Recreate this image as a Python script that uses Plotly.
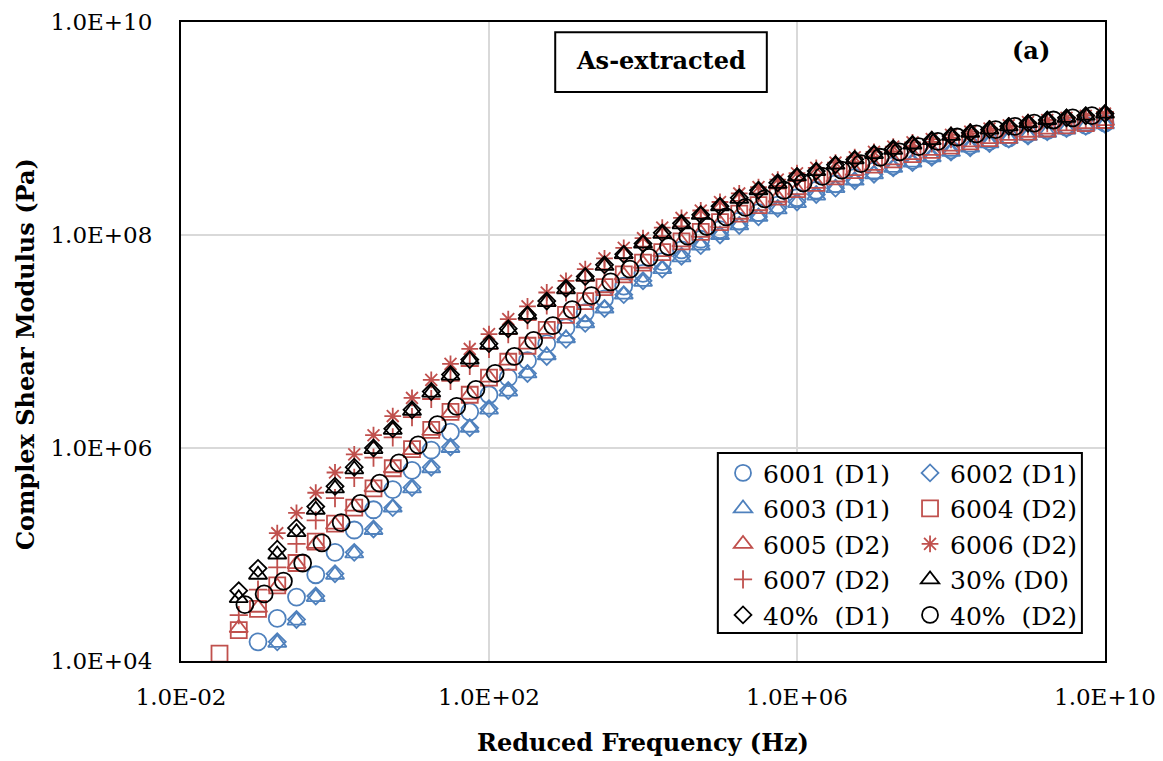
import plotly.graph_objects as go

# ---- data (log10 of reduced frequency in Hz, log10 of |G*| in Pa) ----
log_f_a = [-1.5, -1.25, -1.0, -0.75, -0.5, -0.25, 0.0, 0.25, 0.5, 0.75, 1.0, 1.25,
           1.5, 1.75, 2.0, 2.25, 2.5, 2.75, 3.0, 3.25, 3.5, 3.75, 4.0, 4.25, 4.5,
           4.75, 5.0, 5.25, 5.5, 5.75, 6.0, 6.25, 6.5, 6.75, 7.0, 7.25, 7.5, 7.75,
           8.0, 8.25, 8.5, 8.75, 9.0, 9.25, 9.5, 9.75, 10.0]
log_f_b = [-1.17, -0.92, -0.67, -0.42, -0.17, 0.08, 0.33, 0.58, 0.83, 1.08, 1.33,
           1.58, 1.83, 2.08, 2.33, 2.58, 2.83, 3.08, 3.33, 3.58, 3.83, 4.08, 4.33,
           4.58, 4.83, 5.08, 5.33, 5.58, 5.83, 6.08, 6.33, 6.58, 6.83, 7.08, 7.33,
           7.58, 7.83, 8.08, 8.33, 8.58, 8.83, 9.08, 9.33, 9.58, 9.83]

g_6001 = [4.18, 4.40, 4.60, 4.81, 5.02, 5.23, 5.42, 5.61, 5.79, 5.98,
          6.15, 6.34, 6.50, 6.66, 6.82, 6.98, 7.13, 7.27, 7.40, 7.52,
          7.64, 7.75, 7.86, 7.96, 8.05, 8.13, 8.21, 8.28, 8.35, 8.42,
          8.48, 8.54, 8.60, 8.65, 8.70, 8.75, 8.80, 8.84, 8.88, 8.91,
          8.95, 8.98, 9.01, 9.03, 9.05]
g_6002 = [4.18, 4.39, 4.61, 4.82, 5.02, 5.24, 5.44, 5.63, 5.82, 6.01,
          6.19, 6.37, 6.54, 6.70, 6.86, 7.02, 7.17, 7.31, 7.44, 7.57,
          7.68, 7.80, 7.90, 8.00, 8.09, 8.17, 8.25, 8.31, 8.38, 8.44,
          8.51, 8.57, 8.63, 8.68, 8.73, 8.78, 8.82, 8.86, 8.90, 8.93,
          8.97, 9.00, 9.02, 9.04]
g_6003 = [4.17, 4.38, 4.60, 4.81, 5.01, 5.23, 5.44, 5.62, 5.81, 6.00,
          6.19, 6.36, 6.53, 6.70, 6.87, 7.03, 7.17, 7.31, 7.44, 7.56,
          7.68, 7.79, 7.90, 8.00, 8.09, 8.17, 8.24, 8.30, 8.37, 8.44,
          8.51, 8.57, 8.63, 8.68, 8.73, 8.78, 8.82, 8.86, 8.90, 8.93,
          8.96, 8.99, 9.02, 9.04]
g_6004 = [4.07, 4.29, 4.49, 4.71, 4.92, 5.12, 5.29, 5.44, 5.62, 5.81,
          5.99, 6.17, 6.34, 6.50, 6.66, 6.81, 6.96, 7.11, 7.25, 7.38,
          7.51, 7.63, 7.74, 7.84, 7.94, 8.03, 8.12, 8.20, 8.28, 8.36,
          8.43, 8.49, 8.55, 8.61, 8.66, 8.71, 8.76, 8.80, 8.84, 8.88,
          8.91, 8.94, 8.97, 9.00, 9.03, 9.05, 9.08]
g_6005 = [4.31, 4.50, 4.70, 4.91, 5.10, 5.28, 5.45, 5.63, 5.81, 5.98,
          6.16, 6.33, 6.50, 6.66, 6.82, 6.97, 7.11, 7.25, 7.38, 7.50,
          7.62, 7.73, 7.84, 7.93, 8.02, 8.11, 8.19, 8.27, 8.35, 8.42,
          8.48, 8.54, 8.60, 8.65, 8.70, 8.75, 8.79, 8.83, 8.87, 8.90,
          8.93, 8.96, 8.99, 9.02, 9.04, 9.07]
g_6006 = [5.20, 5.39, 5.58, 5.77, 5.94, 6.12, 6.30, 6.47, 6.64, 6.79,
          6.93, 7.07, 7.21, 7.33, 7.46, 7.57, 7.68, 7.78, 7.88, 7.97,
          8.07, 8.16, 8.23, 8.31, 8.39, 8.45, 8.52, 8.58, 8.63, 8.68,
          8.73, 8.78, 8.83, 8.87, 8.90, 8.94, 8.97, 9.00, 9.03, 9.06,
          9.08, 9.10, 9.12, 9.14]
g_6007 = [4.43, 4.67, 4.88, 5.10, 5.32, 5.53, 5.72, 5.91, 6.10, 6.29,
          6.46, 6.63, 6.77, 6.93, 7.07, 7.20, 7.34, 7.46, 7.57, 7.68,
          7.78, 7.89, 7.99, 8.08, 8.16, 8.24, 8.32, 8.39, 8.46, 8.52,
          8.57, 8.63, 8.68, 8.73, 8.78, 8.82, 8.86, 8.90, 8.93, 8.96,
          8.99, 9.02, 9.05, 9.07, 9.09, 9.11]
g_30_d0 = [4.59, 4.81, 5.00, 5.21, 5.42, 5.62, 5.80, 5.99, 6.17, 6.35,
           6.52, 6.68, 6.83, 6.97, 7.11, 7.25, 7.37, 7.49, 7.61, 7.71,
           7.82, 7.92, 8.01, 8.10, 8.19, 8.27, 8.34, 8.42, 8.48, 8.55,
           8.60, 8.66, 8.71, 8.76, 8.80, 8.85, 8.89, 8.93, 8.96, 8.99,
           9.02, 9.05, 9.08, 9.10, 9.12, 9.14]
g_40_d1 = [4.66, 4.87, 5.05, 5.25, 5.45, 5.64, 5.82, 6.00, 6.18, 6.36,
           6.53, 6.69, 6.83, 6.98, 7.12, 7.25, 7.38, 7.50, 7.61, 7.72,
           7.82, 7.92, 8.02, 8.11, 8.19, 8.27, 8.35, 8.42, 8.49, 8.55,
           8.60, 8.66, 8.71, 8.76, 8.81, 8.85, 8.89, 8.93, 8.96, 8.99,
           9.02, 9.05, 9.08, 9.10, 9.12, 9.14]
g_40_d2 = [4.53, 4.63, 4.75, 4.92, 5.11, 5.30, 5.48, 5.67, 5.86, 6.03,
           6.22, 6.39, 6.55, 6.70, 6.86, 7.01, 7.15, 7.30, 7.43, 7.56,
           7.68, 7.79, 7.89, 7.99, 8.08, 8.17, 8.26, 8.34, 8.42, 8.49,
           8.55, 8.61, 8.67, 8.73, 8.78, 8.83, 8.88, 8.92, 8.95, 8.99,
           9.02, 9.05, 9.08, 9.10, 9.12]

x_tick_vals = [1e-2, 1e2, 1e6, 1e10]
x_tick_text = ["1.0E-02", "1.0E+02", "1.0E+06", "1.0E+10"]
y_tick_vals = [1e4, 1e6, 1e8, 1e10]
y_tick_text = ["1.0E+04", "1.0E+06", "1.0E+08", "1.0E+10"]

BLUE = "#4F81BD"
RED = "#C0504D"
BLACK = "#000000"
FONT = "DejaVu Serif"

series = [
    ("6001 (D1)", g_6001, log_f_a, "circle-open", BLUE, 17, "legend"),
    ("6002 (D1)", g_6002, log_f_a, "diamond-open", BLUE, 13, "legend2"),
    ("6003 (D1)", g_6003, log_f_a, "triangle-up-open", BLUE, 16, "legend"),
    ("6004 (D2)", g_6004, log_f_a, "square-open", RED, 16, "legend2"),
    ("6005 (D2)", g_6005, log_f_a, "triangle-up-open", RED, 16, "legend"),
    ("6006 (D2)", g_6006, log_f_a, "asterisk-open", RED, 14, "legend2"),
    ("6007 (D2)", g_6007, log_f_a, "cross-thin-open", RED, 13, "legend"),
    ("30% (D0)", g_30_d0, log_f_a, "triangle-up-open", BLACK, 16, "legend2"),
    ("40%\u00a0 (D1)", g_40_d1, log_f_a, "diamond-open", BLACK, 13, "legend"),
    ("40%\u00a0 (D2)", g_40_d2, log_f_b, "circle-open", BLACK, 17, "legend2"),
]

fig = go.Figure()
for name, vals, grid, sym, col, size, lg in series:
    xs = grid[len(grid) - len(vals):]
    fig.add_trace(go.Scatter(
        x=[10 ** v for v in xs], y=[10 ** v for v in vals],
        mode="markers", name=name, legend=lg, cliponaxis=False,
        marker=dict(symbol=sym, size=size, color=col,
                    line=dict(color=col, width=1.8)),
    ))

axis_common = dict(
    type="log", showgrid=True, gridcolor="#d9d9d9", gridwidth=2,
    showline=True, mirror=True, linecolor="black", linewidth=2,
    ticks="", zeroline=False, automargin=False,
    tickfont=dict(family=FONT, size=23, color="black"),
)

# page body has an 8 px default margin: figure is 1155x753 placed at (8, 8)
fig.update_layout(
    width=1155, height=753,
    margin=dict(l=173, r=58, t=14, b=100),
    paper_bgcolor="white", plot_bgcolor="white",
    showlegend=True,
    xaxis=dict(axis_common, range=[-2, 10], tickvals=x_tick_vals,
               ticktext=x_tick_text, ticklabelstandoff=14),
    yaxis=dict(axis_common, range=[4, 10], tickvals=y_tick_vals,
               ticktext=y_tick_text, ticklabelstandoff=22),
    legend=dict(x=0.5866, y=0.330, xanchor="left", yanchor="top",
                bgcolor="rgba(0,0,0,0)", borderwidth=0,
                font=dict(family=FONT, size=25, color="black")),
    legend2=dict(x=0.789, y=0.330, xanchor="left", yanchor="top",
                 bgcolor="rgba(0,0,0,0)", borderwidth=0,
                 font=dict(family=FONT, size=25, color="black")),
    shapes=[
        dict(type="rect", xref="paper", yref="paper", x0=0.581, x1=0.975,
             y0=0.0438, y1=0.3255, line=dict(color="black", width=2),
             fillcolor="white", layer="above"),
        dict(type="rect", xref="paper", yref="paper", x0=0.405, x1=0.634,
             y0=0.8905, y1=0.984, line=dict(color="black", width=2),
             fillcolor="white", layer="above"),
    ],
    annotations=[
        dict(text="<b>As-extracted</b>", xref="paper", yref="paper",
             x=0.5195, y=0.939, xanchor="center", yanchor="middle",
             showarrow=False, font=dict(family=FONT, size=24, color="black")),
        dict(text="<b>(a)</b>", xref="paper", yref="paper",
             x=0.920, y=0.955, xanchor="center", yanchor="middle",
             showarrow=False, font=dict(family=FONT, size=24, color="black")),
        dict(text="<b>Reduced Frequency (Hz)</b>", xref="paper", yref="paper",
             x=0.5, y=-0.1268, xanchor="center", yanchor="middle",
             showarrow=False, font=dict(family=FONT, size=24, color="black")),
        dict(text="<b>Complex Shear Modulus (Pa)</b>", xref="paper", yref="paper",
             x=-0.168, y=0.48, xanchor="center", yanchor="middle", textangle=-90,
             showarrow=False, font=dict(family=FONT, size=24, color="black")),
    ],
)

fig.write_html("out.html")
